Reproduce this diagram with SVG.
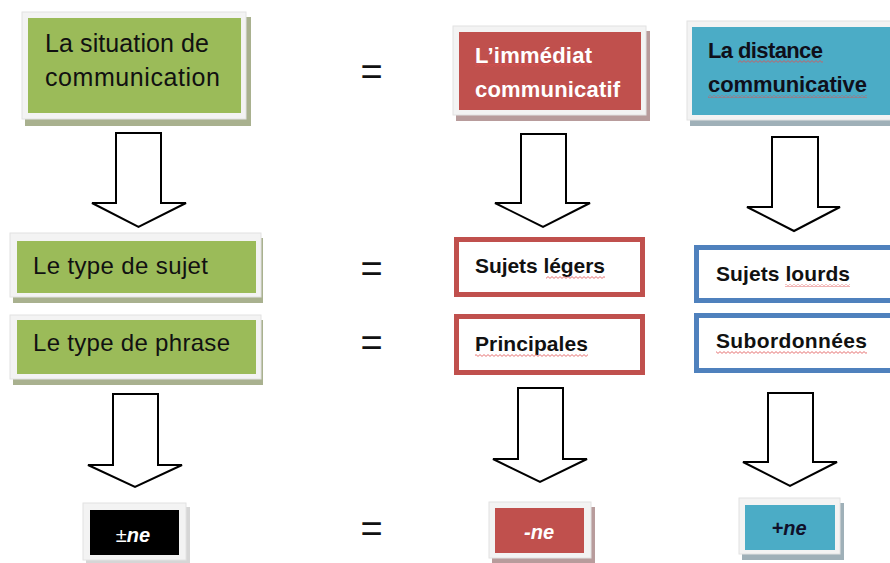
<svg xmlns="http://www.w3.org/2000/svg" width="890" height="563" viewBox="0 0 890 563">
<defs>
<pattern id="wavy" width="4" height="3" patternUnits="userSpaceOnUse">
<path d="M0,0.6 L2,2.4 L4,0.6" fill="none" stroke="#e05050" stroke-width="0.8"/>
</pattern>
<style>
text{font-family:"Liberation Sans",Arial,sans-serif;}
.reg{font-size:25px;fill:#111;}
.reg2{font-size:24px;fill:#111;}
.bold{font-size:22px;font-weight:bold;}
.bold2{font-size:21px;font-weight:bold;fill:#111;}
.small{font-size:20px;font-weight:bold;font-style:italic;}
.frame{fill:#f3f3f3;stroke:#e2e2e2;stroke-width:1;}
.shG{fill:#a9b18f;}
.shR{fill:#b89c9c;}
.shT{fill:#9fb0b8;}
.shK{fill:#d6d6d6;}
.green{fill:#9bbb59;}
.red{fill:#c0504d;}
.teal{fill:#4bacc6;}
.rbox{fill:#fff;stroke:#c0504d;stroke-width:5;}
.bbox{fill:#fff;stroke:#4f81bd;stroke-width:5;}
.arrow{fill:#fff;stroke:#000;stroke-width:2;stroke-linejoin:miter;}
.eq{font-size:38px;fill:#111;}
.wave{fill:url(#wavy);}
</style>
</defs>
<rect width="890" height="563" fill="#fff"/>

<g id="situation">
<rect class="shG" x="25" y="17" width="226" height="109"/>
<rect class="frame" x="22" y="12" width="224" height="107"/>
<rect class="green" x="28" y="18" width="213" height="95"/>
<text class="reg" x="45" y="52" textLength="164">La situation de</text>
<text class="reg" x="45" y="86" textLength="175">communication</text>
</g>

<g id="immediat">
<rect class="shR" x="456" y="31" width="194" height="90"/>
<rect class="frame" x="453" y="26" width="193" height="89"/>
<rect class="red" x="459" y="32" width="182" height="78"/>
<text class="bold" x="475" y="63" fill="#fff" textLength="117">L’immédiat</text>
<rect class="wave" x="475" y="64" width="117" height="3"/>
<text class="bold" x="475" y="97" fill="#fff" textLength="145">communicatif</text>
</g>

<g id="distance">
<rect class="shT" x="690" y="26" width="210" height="100"/>
<rect class="frame" x="687" y="21" width="210" height="99"/>
<rect class="teal" x="692" y="27" width="210" height="88"/>
<text class="bold" x="708" y="58" fill="#0f0f1a" textLength="115">La distance</text>
<rect class="wave" x="738" y="60" width="85" height="3"/>
<text class="bold" x="708" y="92" fill="#0f0f1a" textLength="159">communicative</text>
<rect class="wave" x="708" y="95" width="159" height="3"/>
</g>

<g id="type-sujet">
<rect class="shG" x="13" y="238" width="250" height="65"/>
<rect class="frame" x="10" y="233" width="251" height="64"/>
<rect class="green" x="17" y="241" width="239" height="52"/>
<text class="reg2" x="33" y="274" textLength="175">Le type de sujet</text>
</g>

<g id="type-phrase">
<rect class="shG" x="13" y="320" width="250" height="65"/>
<rect class="frame" x="10" y="315" width="251" height="64"/>
<rect class="green" x="17" y="320" width="239" height="54"/>
<text class="reg2" x="33" y="351" textLength="197">Le type de phrase</text>
</g>

<g id="sujets-legers">
<rect class="rbox" x="456.5" y="239.5" width="186" height="55"/>
<text class="bold2" x="475" y="273" textLength="130">Sujets légers</text>
<rect class="wave" x="546" y="276" width="59" height="3"/>
</g>

<g id="principales">
<rect class="rbox" x="456.5" y="316.5" width="186" height="56"/>
<text class="bold2" x="475" y="351" textLength="113">Principales</text>
<rect class="wave" x="475" y="354" width="113" height="3"/>
</g>

<g id="sujets-lourds">
<rect class="bbox" x="696.5" y="247.5" width="210" height="53"/>
<text class="bold2" x="716" y="281" textLength="134">Sujets lourds</text>
<rect class="wave" x="785" y="284" width="65" height="3"/>
</g>

<g id="subordonnees">
<rect class="bbox" x="696.5" y="315.5" width="210" height="55"/>
<text class="bold2" x="716" y="348" textLength="151">Subordonnées</text>
<rect class="wave" x="716" y="351" width="151" height="3"/>
</g>

<g id="plusminus-ne">
<rect class="shK" x="86" y="507" width="104" height="56"/>
<rect class="frame" x="83" y="503" width="103" height="57"/>
<rect x="90" y="510" width="89" height="45" fill="#000"/>
<text class="small" x="133" y="542" text-anchor="middle" fill="#fff"><tspan font-weight="normal" font-style="normal">±</tspan>ne</text>
</g>

<g id="moins-ne">
<rect class="shR" x="492" y="507" width="103" height="56"/>
<rect class="frame" x="489" y="502" width="102" height="56"/>
<rect class="red" x="495" y="508" width="89" height="45"/>
<text class="small" x="539" y="539" text-anchor="middle" fill="#fff">-ne</text>
</g>

<g id="plus-ne">
<rect class="shT" x="742" y="503" width="102" height="57"/>
<rect class="frame" x="739" y="498" width="101" height="56"/>
<rect class="teal" x="745" y="505" width="90" height="45"/>
<text class="small" x="789" y="535" text-anchor="middle" fill="#10102a">+ne</text>
</g>

<g id="equals">
<text class="eq" x="371.5" y="85" text-anchor="middle">=</text>
<text class="eq" x="371.5" y="282" text-anchor="middle">=</text>
<text class="eq" x="371.5" y="356" text-anchor="middle">=</text>
<text class="eq" x="371.5" y="542" text-anchor="middle">=</text>
</g>

<g id="connectors">
<path class="arrow" d="M116,133 H161 V203 H186 L138.5,227 L92,203 H116 Z"/>
<path class="arrow" d="M521,134 H566 V203 H590 L543,227 L495,203 H521 Z"/>
<path class="arrow" d="M772,137 H818 V207 H840 L794,231 L747,207 H772 Z"/>
<path class="arrow" d="M113,394 H158 V465 H182 L135,487 L88,465 H113 Z"/>
<path class="arrow" d="M518,388 H563 V459 H587 L540,482 L493,459 H518 Z"/>
<path class="arrow" d="M768,393 H813 V462 H837 L790,486 L743,462 H768 Z"/>
</g>
</svg>
